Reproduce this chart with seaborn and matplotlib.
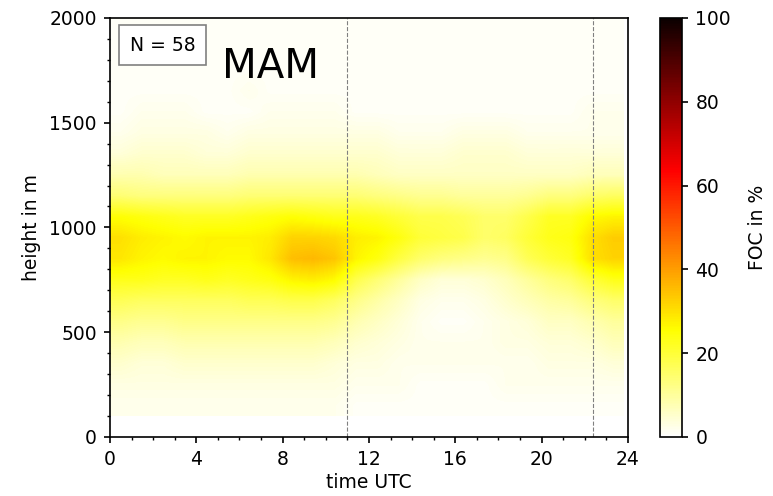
import numpy as np
import matplotlib
matplotlib.use("Agg")
import matplotlib.pyplot as plt
from matplotlib.ticker import MultipleLocator
import seaborn as sns

# hourly time bins (UTC) and 100 m height bins (lower edges)
hours = list(range(24))
heights = [100, 200, 300, 400, 500, 600, 700, 800, 900, 1000,
           1100, 1200, 1300, 1400, 1500, 1600, 1700, 1800, 1900]

# frequency of occurrence in %, one row per height bin, one value per hour
foc_100 = [2, 2, 2, 2, 2, 2, 2, 2, 2, 2, 2, 1, 1, 1, 1, 1, 1, 1, 1, 1, 1, 1, 1, 1]
foc_200 = [3, 3, 3, 3, 3, 3, 3, 3, 3, 3, 3, 2, 2, 2, 1, 1, 1, 1, 2, 2, 2, 2, 2, 2]
foc_300 = [5, 4, 4, 5, 5, 5, 5, 5, 5, 5, 4, 3, 3, 2, 2, 2, 2, 2, 2, 2, 3, 3, 3, 4]
foc_400 = [8, 7, 7, 8, 8, 8, 8, 8, 8, 8, 7, 5, 4, 3, 2, 2, 2, 2, 3, 3, 4, 4, 5, 7]
foc_500 = [12, 11, 11, 12, 12, 12, 12, 12, 12, 12, 11, 8, 6, 4, 2, 1, 1, 2, 3, 4, 6, 6, 8, 10]
foc_600 = [17, 16, 16, 16, 16, 16, 17, 17, 18, 18, 16, 12, 9, 6, 3, 2, 2, 3, 5, 7, 9, 10, 13, 15]
foc_700 = [23, 23, 22, 22, 23, 22, 23, 24, 27, 28, 26, 18, 14, 10, 6, 4, 4, 5, 7, 10, 13, 15, 20, 23]
foc_800 = [29, 27, 26, 27, 27, 26, 26, 29, 35, 36, 34, 27, 24, 19, 15, 13, 12, 11, 12, 17, 20, 22, 30, 32]
foc_900 = [30, 28, 27, 26, 27, 27, 27, 28, 32, 32, 31, 28, 27, 24, 20, 19, 18, 15, 16, 20, 23, 24, 30, 33]
foc_1000 = [25, 24, 23, 22, 22, 22, 23, 24, 25, 24, 23, 23, 22, 20, 18, 18, 17, 15, 15, 18, 22, 22, 26, 27]
foc_1100 = [14, 13, 13, 13, 13, 13, 14, 14, 14, 14, 14, 14, 13, 12, 11, 11, 10, 10, 10, 11, 13, 13, 15, 16]
foc_1200 = [8, 8, 7, 7, 7, 7, 8, 8, 8, 8, 8, 8, 7, 6, 6, 6, 6, 6, 6, 6, 6, 6, 7, 7]
foc_1300 = [4, 5, 5, 5, 4, 4, 5, 5, 5, 5, 5, 5, 5, 4, 4, 4, 5, 5, 5, 4, 4, 4, 4, 4]
foc_1400 = [2, 3, 3, 3, 3, 2, 3, 3, 3, 3, 3, 3, 3, 2, 2, 2, 3, 3, 3, 2, 2, 2, 2, 2]
foc_1500 = [1, 2, 2, 2, 1, 1, 1, 2, 2, 2, 2, 1, 1, 1, 1, 1, 1, 1, 1, 1, 1, 1, 2, 2]
foc_1600 = [1, 1, 1, 1, 1, 1, 2, 1, 1, 1, 1, 1, 1, 1, 1, 1, 1, 1, 1, 1, 1, 1, 1, 1]
foc_1700 = [1, 1, 1, 1, 1, 1, 1, 1, 1, 1, 1, 1, 1, 1, 1, 1, 1, 1, 1, 1, 1, 1, 1, 1]
foc_1800 = [1, 1, 1, 1, 1, 1, 1, 1, 1, 1, 1, 1, 1, 1, 1, 1, 1, 1, 1, 1, 1, 1, 1, 1]
foc_1900 = [1, 1, 1, 1, 1, 1, 1, 1, 1, 1, 1, 1, 1, 1, 1, 1, 1, 1, 1, 1, 1, 1, 1, 1]

sunrise = 11.0
sunset = 22.4
n_days = 58
season = "MAM"

foc = np.array([foc_100, foc_200, foc_300, foc_400, foc_500, foc_600, foc_700,
                foc_800, foc_900, foc_1000, foc_1100, foc_1200, foc_1300,
                foc_1400, foc_1500, foc_1600, foc_1700, foc_1800, foc_1900])

sns.set_style("ticks", {"axes.edgecolor": "black", "xtick.color": "black",
                        "ytick.color": "black", "text.color": "black",
                        "axes.labelcolor": "black"})
plt.rcParams["font.family"] = ["DejaVu Sans"]
fs = 13.5

fig = plt.figure(figsize=(7.73, 4.96), dpi=100)
ax = fig.add_axes([0.1423, 0.119, 0.670, 0.845])
cax = fig.add_axes([0.854, 0.119, 0.0285, 0.845])

im = ax.imshow(foc, origin="lower", aspect="auto", cmap="hot_r", vmin=0, vmax=100,
               interpolation="bilinear",
               extent=(hours[0], hours[-1] + 0.8, heights[0], heights[-1] + 100))

ax.axvline(sunrise, color="grey", ls="--", lw=0.8)
ax.axvline(sunset, color="grey", ls="--", lw=0.8)

ax.set_xlim(0, 24)
ax.set_ylim(0, 2000)
ax.xaxis.set_major_locator(MultipleLocator(4))
ax.xaxis.set_minor_locator(MultipleLocator(1))
ax.yaxis.set_major_locator(MultipleLocator(500))
ax.yaxis.set_minor_locator(MultipleLocator(100))
ax.tick_params(which="major", length=4.5, width=1.2, labelsize=fs, pad=5)
ax.tick_params(which="minor", length=2.5, width=1)
for sp in ax.spines.values():
    sp.set_linewidth(1.2)
ax.set_xlabel("time UTC", fontsize=fs, labelpad=3)
ax.set_ylabel("height in m", fontsize=fs, labelpad=6)

ax.text(0.038, 0.935, f"N = {n_days}", transform=ax.transAxes, fontsize=fs,
        ha="left", va="center",
        bbox=dict(boxstyle="square,pad=0.55", fc="white", ec="grey", lw=1.2))
ax.text(0.309, 0.882, season, transform=ax.transAxes, fontsize=29,
        ha="center", va="center")

cb = fig.colorbar(im, cax=cax)
cb.set_ticks([0, 20, 40, 60, 80, 100])
cb.ax.tick_params(labelsize=fs, length=4.5, width=1.2, pad=5)
cb.outline.set_linewidth(1.2)
cb.set_label("FOC in %", fontsize=fs, labelpad=12)

fig.savefig("out.png", dpi=100)
